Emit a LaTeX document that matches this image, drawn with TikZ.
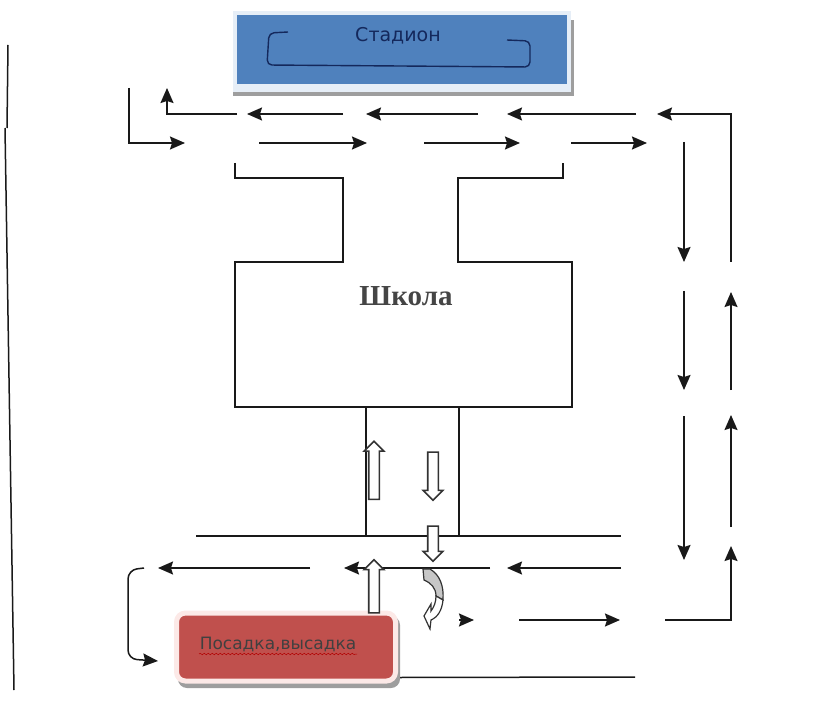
\documentclass[tikz,border=0pt]{standalone}
\usepackage{fontspec}
\setmainfont{Liberation Serif}
\newfontfamily\labelfont{DejaVu Sans}
\usetikzlibrary{arrows.meta,shapes.arrows,decorations.pathmorphing}
\definecolor{stadionblue}{HTML}{4F81BD}
\definecolor{stadionedge}{HTML}{E6EEF7}
\definecolor{stadionink}{HTML}{14285C}
\definecolor{posadkared}{HTML}{C0504D}
\definecolor{posadkaedge}{HTML}{FCE9E7}
\definecolor{schoolgray}{HTML}{454545}
\tikzstyle{stadionbox} = [
    fill=stadionblue,
    draw=none,
    minimum width=330pt,
    minimum height=69pt,
    inner sep=0pt
    ]
\tikzstyle{posadkabox} = [
    fill=posadkared,
    draw=posadkaedge,
    line width=5pt,
    rounded corners=9pt,
    minimum width=219pt,
    minimum height=68pt,
    inner sep=0pt
    ]
\tikzstyle{shadowbox} = [
    fill=black!38,
    draw=none
    ]
\tikzstyle{road} = [
    draw=black!90,
    line width=1.5pt
    ]
\tikzstyle{roadarrow} = [
    road,
    -{Stealth[length=15pt,width=13pt,inset=2pt]}
    ]
\tikzstyle{blockarrow} = [
    draw=black!80,
    fill=white,
    line width=1.6pt,
    single arrow,
    single arrow head extend=4.5pt,
    inner sep=4.5pt,
    minimum height=#1
    ]
\begin{document}
\begin{tikzpicture}[x=1pt,y=-1pt]
\useasboundingbox (0,0) rectangle (830,711);
\draw[road] (8,45) -- (7,128);
\draw[road] (5,128) -- (14,690);
% stadion
\fill[shadowbox] (233,20) rectangle (574,96);
\fill[stadionedge] (233,11) rectangle (571,92);
\node[stadionbox] (stadion) at (402,49.5) {};
\node[font=\labelfont\fontsize{19}{19}\selectfont, text=stadionink] (stadionlabel) at (398,36) {Стадион};
\draw[stadionink, line width=1.4pt, rounded corners=5pt] (288,32) -- (269,33) -- (267,65) -- (400,66) -- (530,67) -- (530,41) -- (507,40);
% upper road
\coordinate (upperturn) at (237,114);
\coordinate (upperend) at (167,88);
\draw[roadarrow] (upperturn) -- (167,114) -- (upperend);
\foreach \xa/\xb in {343/247, 478/366, 636/507}
    \draw[roadarrow] (\xa,114) -- (\xb,114);
\draw[roadarrow] (129,88) -- (129,143) -- (185,143);
\foreach \xa/\xb in {259/367, 424/520, 571/647}
    \draw[roadarrow] (\xa,143) -- (\xb,143);
% right side
\draw[roadarrow] (731,262) -- (731,114) -- (657,114);
\foreach \ya/\yb in {142/262, 291/390, 416/560}
    \draw[roadarrow] (684,\ya) -- (684,\yb);
\foreach \ya/\yb in {390/292, 527/415}
    \draw[roadarrow] (731,\ya) -- (731,\yb);
\draw[roadarrow] (665,620) -- (731,620) -- (731,546);
% school
\draw[road] (235,163) -- (235,178) -- (343,178) -- (343,262) -- (235,262) -- (235,407) -- (572,407) -- (572,262) -- (458,262) -- (458,178) -- (563,178) -- (563,163);
\node[font=\bfseries\fontsize{29}{29}\selectfont, text=schoolgray] (school) at (406,296) {Школа};
\draw[road] (366,407) -- (366,536);
\draw[road] (459,407) -- (459,536);
% lower road
\draw[road] (196,536) -- (621,536);
\draw[roadarrow] (310,568) -- (158,568);
\draw[roadarrow] (490,568) -- (344,568);
\draw[roadarrow] (621,568) -- (507,568);
\draw[roadarrow, rounded corners=9pt] (144,568) -- (128,570) -- (128,659) -- (158,661);
\draw[roadarrow] (459,620) -- (474,620);
\draw[roadarrow] (519,620) -- (620,620);
% posadka
\fill[shadowbox, rounded corners=9pt] (178,616) rectangle (400,688);
\node[posadkabox] (posadka) at (286,647) {};
\node[font=\labelfont\fontsize{17}{17}\selectfont, text=black!75] (posadkalabel) at (278,644) {Посадка,высадка};
\draw[red!70!black, line width=.5pt, decorate, decoration={snake,amplitude=.7pt,segment length=4pt}] (199,654) -- (357,654);
\draw[road] (posadka.south east) ++(2,-6) -- (635,677);
% block arrows
\node[blockarrow=58pt, rotate=90] (schoolup) at (374,473) {};
\node[blockarrow=48pt, rotate=-90] (schooldown) at (433,473.5) {};
\node[blockarrow=35pt, rotate=-90] (crossdown) at (433,541) {};
\node[blockarrow=53pt, rotate=90] (crossup) at (374,589) {};
% curved arrow
\draw[black!80, fill=black!22, line width=1.2pt] (423,569) -- (430,569) .. controls (440,575) and (444,586) .. (443,600) -- (436,596) .. controls (436,588) and (431,583) .. (424,580) -- cycle;
\draw[black!80, fill=white, line width=1.2pt] (443,600) .. controls (442,610) and (438,617) .. (431,620) -- (430,629) -- (424,616) -- (431,604) -- (431,611) .. controls (434,607) and (436,602) .. (436,596) -- cycle;
\end{tikzpicture}
\end{document}
